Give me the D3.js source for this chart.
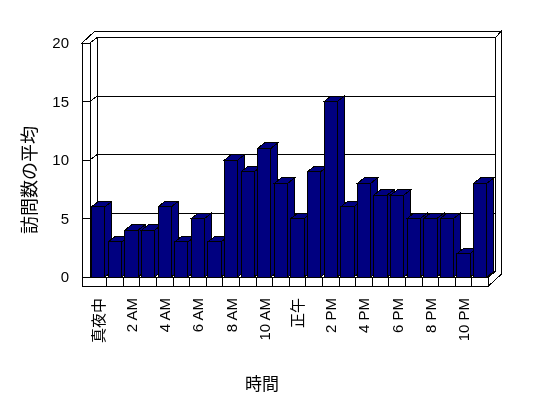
<!DOCTYPE html>
<html lang="ja">
    <head>
        <meta charset="utf-8">
        <title>訪問数の平均</title>
        <script type="text/javascript" src="https://d3js.org/d3.v7.min.js"></script>
        <style>
            body { margin: 0; background: #FFFFFF; }
            .tick-label { font-family: "Liberation Sans", "Noto Sans CJK JP", sans-serif; font-size: 15px; fill: #000; }
            .title { font-family: "Noto Sans CJK JP", sans-serif; fill: #000; }
        </style>
    </head>
    <body>
        <script>
        // data: average visits per hour of day
        const hours = ["真夜中", "1 AM", "2 AM", "3 AM", "4 AM", "5 AM", "6 AM", "7 AM",
                       "8 AM", "9 AM", "10 AM", "11 AM", "正午", "1 PM", "2 PM", "3 PM",
                       "4 PM", "5 PM", "6 PM", "7 PM", "8 PM", "9 PM", "10 PM", "11 PM"];
        const visits = [6, 3, 4, 4, 6, 3, 5, 3, 10, 9, 11, 8, 5, 9, 15, 6, 8, 7, 7, 5, 5, 5, 2, 8];
        const yTicks = [0, 5, 10, 15, 20];

        const W = 548, H = 398;
        const left = 90, right = 488.5, wallX = 82, floorBottom = 286;
        const inner = {dx: 7, dy: -5.5};   // depth of bars / back wall face
        const outer = {dx: 13, dy: -12};   // depth incl. wall thickness

        const svg = d3.select("body")
            .append("svg")
                .attr("width", W)
                .attr("height", H)
                .style("background-color", "#FFFFFF");

        const x = d3.scaleBand()
            .domain(hours)
            .range([left, right])
            .paddingInner(0.2)
            .paddingOuter(0.1);
        const xCell = d3.scaleBand()
            .domain(hours)
            .range([left, right]);
        const y = d3.scaleLinear()
            .domain([0, 20])
            .range([277, 43]);

        const pt = (px, py, d) => d ? [px + d.dx, py + d.dy] : [px, py];
        const poly = pts => pts.map(p => p.join(",")).join(" ");

        const frame = svg.append("g")
            .attr("fill", "#FFFFFF")
            .attr("stroke", "#000")
            .attr("stroke-width", 1)
            .attr("shape-rendering", "crispEdges");

        // back wall face
        frame.append("polygon")
            .attr("points", poly([pt(left, y(0), inner), pt(right, y(0), inner), pt(right, y(20), inner), pt(left, y(20), inner)]));
        // left wall inner face
        frame.append("polygon")
            .attr("points", poly([pt(left, y(20)), pt(left, y(20), inner), pt(left, y(0), inner), pt(left, y(0))]));
        // top of the walls
        frame.append("polygon")
            .attr("points", poly([pt(wallX, y(20)), pt(wallX, y(20), outer), pt(right, y(20), outer),
                                  pt(right, y(20), inner), pt(left, y(20), inner), pt(left, y(20))]));
        // right side of wall and floor
        frame.append("polygon")
            .attr("points", poly([pt(right, y(0)), pt(right, y(0), inner), pt(right, y(20), inner),
                                  pt(right, y(20), outer), pt(right, floorBottom, outer), pt(right, floorBottom)]));
        // floor top
        frame.append("polygon")
            .attr("points", poly([pt(left, y(0)), pt(right, y(0)), pt(right, y(0), inner), pt(left, y(0), inner)]));

        // gridlines
        frame.selectAll("polyline.grid")
            .data(yTicks.filter(v => v > 0 && v < 20))
            .join("polyline")
                .attr("class", "grid")
                .attr("fill", "none")
                .attr("points", v => poly([pt(left, y(v)), pt(left, y(v), inner), pt(right, y(v), inner)]));

        // left wall front face + ticks
        frame.append("rect")
            .attr("x", wallX).attr("y", y(20))
            .attr("width", left - wallX).attr("height", y(0) - y(20));
        frame.selectAll("line.ytick")
            .data(yTicks)
            .join("line")
                .attr("class", "ytick")
                .attr("x1", wallX).attr("x2", left)
                .attr("y1", d => y(d)).attr("y2", d => y(d));

        // floor front face with category cells
        frame.append("rect")
            .attr("x", wallX).attr("y", y(0))
            .attr("width", right - wallX).attr("height", floorBottom - y(0));
        frame.selectAll("line.xtick")
            .data(hours.slice(1))
            .join("line")
                .attr("class", "xtick")
                .attr("x1", d => xCell(d)).attr("x2", d => xCell(d))
                .attr("y1", y(0)).attr("y2", floorBottom);

        // bars, drawn left to right so each covers its neighbour's side
        const bars = svg.append("g")
            .attr("fill", "#000080")
            .attr("stroke", "#000")
            .attr("stroke-width", 1)
            .attr("shape-rendering", "crispEdges")
            .selectAll("g")
            .data(hours.map((h, i) => ({h: h, v: visits[i]})))
            .join("g");

        bars.append("polygon")
            .attr("points", d => {
                const x1 = x(d.h) + x.bandwidth();
                return poly([pt(x1, y(0)), pt(x1, y(0), inner), pt(x1, y(d.v), inner), pt(x1, y(d.v))]);
            });
        bars.append("polygon")
            .attr("points", d => {
                const x0 = x(d.h), x1 = x0 + x.bandwidth();
                return poly([pt(x0, y(d.v)), pt(x0, y(d.v), inner), pt(x1, y(d.v), inner), pt(x1, y(d.v))]);
            });
        bars.append("rect")
            .attr("x", d => x(d.h))
            .attr("y", d => y(d.v))
            .attr("width", x.bandwidth())
            .attr("height", d => y(0) - y(d.v));

        // all text in one group (opacity keeps the glyph smoothing grey)
        const texts = svg.append("g").attr("opacity", 0.999);

        // Y axis labels
        const yAxis = texts.append("g")
            .attr("transform", "translate(69,0)")
            .call(d3.axisLeft(y).tickValues(yTicks).tickSize(0).tickPadding(0));
        yAxis.select(".domain").remove();
        yAxis.selectAll("text")
            .attr("class", "tick-label")
            .attr("fill", null)
            .attr("font-size", null)
            .attr("font-family", null);

        // X labels, every other hour
        texts.selectAll("text.xlabel")
            .data(hours.filter((h, i) => i % 2 === 0))
            .join("text")
                .attr("class", "xlabel tick-label")
                .attr("transform", d => `translate(${xCell(d) + xCell.bandwidth() / 2}, 298) rotate(-90)`)
                .attr("text-anchor", "end")
                .attr("dominant-baseline", "central")
                .text(d => d);

        // axis titles
        texts.append("text")
            .attr("class", "title")
            .attr("transform", "translate(28,180) rotate(-90)")
            .attr("text-anchor", "middle")
            .attr("dominant-baseline", "central")
            .style("font-size", "18px")
            .text("訪問数の平均");

        texts.append("text")
            .attr("class", "title")
            .attr("x", 262)
            .attr("y", 382)
            .attr("text-anchor", "middle")
            .attr("dominant-baseline", "central")
            .style("font-size", "17px")
            .text("時間");
        </script>
    </body>
</html>
